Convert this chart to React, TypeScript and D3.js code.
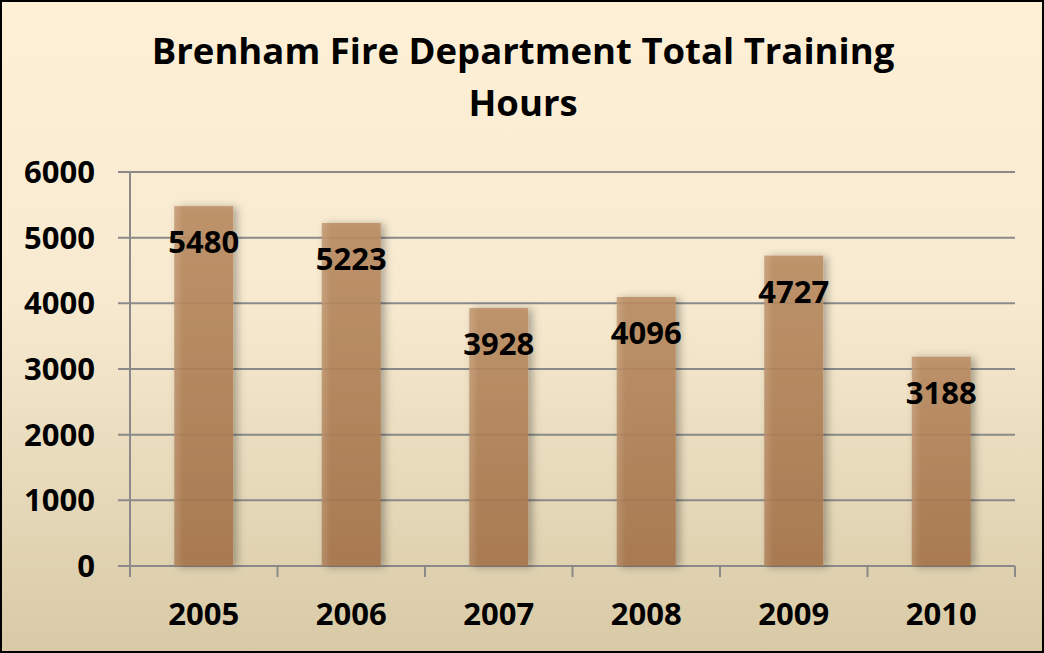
import React from 'react';
import * as d3 from 'd3';

const years = ['2005', '2006', '2007', '2008', '2009', '2010'];
const hours = [5480, 5223, 3928, 4096, 4727, 3188];
const yTicks = [0, 1000, 2000, 3000, 4000, 5000, 6000];
const titleLines = ['Brenham Fire Department Total Training', 'Hours'];

const W = 1044;
const H = 653;
const margin = { top: 172, right: 29, bottom: 87, left: 130 };
const font = '"Open Sans", Carlito, Calibri, sans-serif';

export default function App() {
  const x = d3.scaleBand().domain(years).range([margin.left, W - margin.right]).paddingInner(0).paddingOuter(0);
  const y = d3.scaleLinear().domain([0, 6000]).range([H - margin.bottom, margin.top]);
  const barW = x.bandwidth() * 0.4;
  const x0 = margin.left;
  const x1 = W - margin.right;
  const yBase = y(0);

  return (
    <svg width={W} height={H} style={{ position: 'absolute', left: 0, top: 0, display: 'block' }} fontFamily={font}>
      <defs>
        <linearGradient id="bg" x1="0" y1="0" x2="0" y2="1">
          <stop offset="0" stopColor="#fdf0d6" />
          <stop offset="0.45" stopColor="#f7ead0" />
          <stop offset="1" stopColor="#d8caa6" />
        </linearGradient>
        <linearGradient id="bar" x1="0" y1="0" x2="0" y2="1">
          <stop offset="0" stopColor="#bb8d63" />
          <stop offset="1" stopColor="#a6744a" />
        </linearGradient>
        <linearGradient id="barHi" x1="0" y1="0" x2="1" y2="0">
          <stop offset="0" stopColor="#fff" stopOpacity="0.12" />
          <stop offset="0.15" stopColor="#fff" stopOpacity="0" />
          <stop offset="1" stopColor="#fff" stopOpacity="0" />
        </linearGradient>
        <filter id="shadow" x="-40%" y="-20%" width="180%" height="140%">
          <feDropShadow dx="4" dy="1" stdDeviation="4" floodColor="#000" floodOpacity="0.35" />
        </filter>
      </defs>
      <rect x={1} y={1} width={W - 2} height={H - 2} fill="url(#bg)" stroke="#000" strokeWidth={2} />

      {titleLines.map((t, i) => (
        <text key={t} x={523} y={64 + i * 52} textAnchor="middle" fontSize={36.5} fontWeight="bold" fill="#000">
          {t}
        </text>
      ))}

      {/* gridlines + y ticks */}
      {yTicks.map((v) => (
        <g key={v}>
          <line x1={x0 - 12} x2={x1} y1={y(v)} y2={y(v)} stroke="#8a8a8a" strokeWidth={2} />
          <text x={95} y={y(v) + 11} textAnchor="end" fontSize={31} fontWeight="bold" fill="#000">
            {v}
          </text>
        </g>
      ))}
      <line x1={x0} x2={x0} y1={margin.top} y2={yBase + 11} stroke="#8a8a8a" strokeWidth={2} />

      {/* x ticks */}
      {years.map((yr) => (
        <line key={'t' + yr} x1={x(yr)!} x2={x(yr)!} y1={yBase} y2={yBase + 11} stroke="#8a8a8a" strokeWidth={2} />
      ))}
      <line x1={x1} x2={x1} y1={yBase} y2={yBase + 11} stroke="#8a8a8a" strokeWidth={2} />

      {/* bars */}
      {years.map((yr, i) => {
        const bx = x(yr)! + (x.bandwidth() - barW) / 2;
        const by = y(hours[i]);
        return (
          <g key={'b' + yr}>
            <rect x={bx} y={by} width={barW} height={yBase - by} fill="url(#bar)" fillOpacity={0.88} filter="url(#shadow)" />
            <rect x={bx} y={by} width={barW} height={yBase - by} fill="url(#barHi)" />
          </g>
        );
      })}

      {/* value labels */}
      {years.map((yr, i) => (
        <text key={'v' + yr} x={x(yr)! + x.bandwidth() / 2} y={y(hours[i]) + 47} textAnchor="middle" fontSize={31} fontWeight="bold" fill="#000">
          {hours[i]}
        </text>
      ))}

      {/* x labels */}
      {years.map((yr) => (
        <text key={'x' + yr} x={x(yr)! + x.bandwidth() / 2} y={625} textAnchor="middle" fontSize={31} fontWeight="bold" fill="#000">
          {yr}
        </text>
      ))}
    </svg>
  );
}
